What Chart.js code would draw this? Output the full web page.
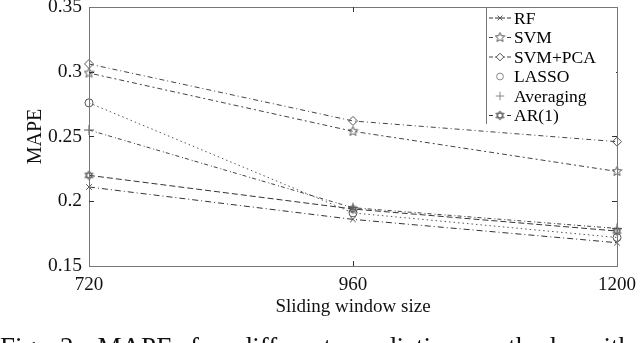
<!DOCTYPE html>
<html>
<head>
<meta charset="utf-8">
<script src="https://cdn.jsdelivr.net/npm/chart.js@4.4.1/dist/chart.umd.min.js"></script>
<style>
  html, body { margin: 0; padding: 0; background: #fff; }
  #wrap { width: 640px; height: 343px; }
</style>
</head>
<body>
<div id="wrap"><canvas id="mapeChart" width="640" height="343"></canvas></div>
<script>
// window sizes on the x axis
const windowSizes = [720, 960, 1200];
const xTicks = [720, 960, 1200];
const yTicks = [0.15, 0.2, 0.25, 0.3, 0.35];

// MAPE per method
const rf = [0.211, 0.186, 0.168];
const svm = [0.299, 0.254, 0.223];
const svmPca = [0.306, 0.262, 0.246];
const lasso = [0.276, 0.191, 0.172];
const averaging = [0.255, 0.195, 0.179];
const ar1 = [0.220, 0.194, 0.177];

const methodNames = ['RF', 'SVM', 'SVM+PCA', 'LASSO', 'Averaging', 'AR(1)'];

const serif = '"Liberation Serif", "Times New Roman", serif';

// star polygons drawn to small canvases (pentagram for SVM, hexagram for AR(1))
function makeStar(points, r, inner) {
    const size = 11;
    const c = document.createElement('canvas');
    c.width = size; c.height = size;
    const g = c.getContext('2d');
    g.strokeStyle = '#555';
    g.lineWidth = 1;
    const cx = size / 2, cy = size / 2;
    g.beginPath();
    for (let i = 0; i < points * 2; i++) {
        const a = -Math.PI / 2 + i * Math.PI / points;
        const rr = i % 2 === 0 ? r : r * inner;
        const px = cx + rr * Math.cos(a), py = cy + rr * Math.sin(a);
        if (i === 0) g.moveTo(px, py); else g.lineTo(px, py);
    }
    g.closePath();
    g.stroke();
    return c;
}
function makeHexagram() {
    const c = document.createElement('canvas');
    c.width = 11; c.height = 11;
    const g = c.getContext('2d');
    g.strokeStyle = '#555';
    g.lineWidth = 1;
    const cx = 5.5, cy = 5.5, r = 4.6;
    for (let k = 0; k < 2; k++) {
        g.beginPath();
        for (let i = 0; i < 3; i++) {
            const a = -Math.PI / 2 + k * Math.PI + i * 2 * Math.PI / 3;
            const px = cx + r * Math.cos(a), py = cy + r * Math.sin(a);
            if (i === 0) g.moveTo(px, py); else g.lineTo(px, py);
        }
        g.closePath();
        g.stroke();
    }
    return c;
}
const pentagram = makeStar(5, 5, 0.45);
const hexagram = makeHexagram();

function series(name, values, style, dash, color, radius) {
    return {
        label: name,
        data: windowSizes.map((x, i) => ({ x: x, y: values[i] })),
        borderColor: color,
        borderWidth: 1,
        borderDash: dash,
        pointStyle: style,
        pointRadius: radius,
        pointBorderColor: '#555',
        pointBackgroundColor: 'rgba(0,0,0,0)',
        pointBorderWidth: 1,
        fill: false,
        tension: 0,
        clip: false
    };
}

const datasets = [
    series(methodNames[0], rf, 'crossRot', [6, 3, 1, 3], '#333', 4),
    series(methodNames[1], svm, pentagram, [2, 3, 5, 3], '#444', 5),
    series(methodNames[2], svmPca, 'rectRot', [5, 3, 1, 3], '#444', 4.5),
    series(methodNames[3], lasso, 'circle', [1.5, 3], '#555', 4),
    series(methodNames[4], averaging, 'cross', [4, 3, 1, 2], '#444', 5),
    series(methodNames[5], ar1, hexagram, [6, 3], '#333', 5)
];

const captionWords = ['Fig.', '2.', 'MAPE', 'for', 'different', 'prediction', 'methods', 'with', 'different'];

// frame, inward ticks, legend box and caption
const decorPlugin = {
    id: 'decor',
    afterDatasetsDraw(chart) {
        const g = chart.ctx;
        const a = chart.chartArea;
        const xs = chart.scales.x, ys = chart.scales.y;
        g.save();
        g.strokeStyle = '#777';
        g.lineWidth = 1;
        g.strokeRect(a.left + 0.5, a.top + 0.5, a.right - a.left, a.bottom - a.top);
        g.strokeStyle = '#333';
        g.beginPath();
        xTicks.forEach(v => {
            const px = Math.round(xs.getPixelForValue(v)) + 0.5;
            if (px < a.left + 2 || px > a.right - 2) return;
            g.moveTo(px, a.bottom); g.lineTo(px, a.bottom - 5);
            g.moveTo(px, a.top); g.lineTo(px, a.top + 5);
        });
        yTicks.forEach(v => {
            const py = Math.round(ys.getPixelForValue(v)) + 0.5;
            if (py < a.top + 2 || py > a.bottom - 2) return;
            g.moveTo(a.left, py); g.lineTo(a.left + 5, py);
            g.moveTo(a.right, py); g.lineTo(a.right - 5, py);
        });
        g.stroke();

        // legend in upper right corner
        const lx = 486, rowH = 19.5, firstY = 18;
        g.fillStyle = '#fff';
        g.fillRect(lx, a.top + 1, a.right - lx - 1, 117);
        g.strokeStyle = '#777';
        g.beginPath();
        g.moveTo(lx + 0.5, a.top); g.lineTo(lx + 0.5, a.top + 117);
        g.stroke();
        g.font = '17.5px ' + serif;
        g.textBaseline = 'middle';
        g.textAlign = 'left';
        chart.data.datasets.forEach((ds, i) => {
            const y = firstY + i * rowH;
            const faint = i === 3 || i === 4;
            if (!faint) {
                g.strokeStyle = ds.borderColor;
                g.setLineDash([4, 2]);
                g.beginPath();
                g.moveTo(489, y); g.lineTo(511, y);
                g.stroke();
                g.setLineDash([]);
            }
            g.strokeStyle = faint ? '#888' : '#555';
            g.fillStyle = '#fff';
            if (typeof ds.pointStyle === 'string') {
                Chart.helpers.drawPoint(g, {
                    pointStyle: ds.pointStyle,
                    radius: ds.pointRadius * 0.85,
                    rotation: 0,
                    borderWidth: 1
                }, 500, y);
            } else {
                g.fillRect(495, y - 5, 11, 11);
                g.drawImage(ds.pointStyle, 500 - 5.5, y - 5.5);
            }
            g.fillStyle = '#000';
            g.fillText(ds.label, 514, y + 1);
        });

        // figure caption, justified and cut by the bottom edge
        g.font = '27px ' + serif;
        g.textBaseline = 'alphabetic';
        g.fillStyle = '#111';
        const lastEnd = 632;
        const shown = captionWords.slice(0, 8);
        const total = shown.reduce((s, w) => s + g.measureText(w).width, 0);
        const gap = (lastEnd - total) / (shown.length - 1);
        let cx = 0;
        captionWords.forEach(w => {
            g.fillText(w, cx, 356);
            cx += g.measureText(w).width + gap;
        });
        g.restore();
    }
};

const ctx = document.getElementById('mapeChart').getContext('2d');
const mapeChart = new Chart(ctx, {
    type: 'line',
    data: { datasets: datasets },
    options: {
        responsive: false,
        animation: false,
        layout: { padding: { top: 7, right: 23, bottom: 25, left: 0 } },
        plugins: {
            legend: { display: false },
            tooltip: { enabled: false }
        },
        scales: {
            x: {
                type: 'linear',
                min: 720,
                max: 1200,
                afterBuildTicks: s => { s.ticks = xTicks.map(v => ({ value: v })); },
                afterFit: s => { s.height = 52; s.paddingLeft = 0; s.paddingRight = 0; },
                grid: { display: false, drawTicks: false },
                border: { display: false },
                ticks: {
                    padding: 8,
                    color: '#111',
                    font: { family: serif, size: 19 },
                    maxRotation: 0,
                    autoSkip: false,
                    callback: v => String(v)
                },
                title: {
                    display: true,
                    text: 'Sliding window size',
                    color: '#111',
                    font: { family: serif, size: 19 },
                    padding: { top: 0, bottom: 0 }
                }
            },
            y: {
                min: 0.15,
                max: 0.35,
                afterBuildTicks: s => { s.ticks = yTicks.map(v => ({ value: v })); },
                afterFit: s => { s.width = 89; s.paddingTop = 0; s.paddingBottom = 0; },
                grid: { display: false, drawTicks: false },
                border: { display: false },
                ticks: {
                    padding: 7,
                    color: '#111',
                    font: { family: serif, size: 19.5 },
                    autoSkip: false,
                    callback: v => String(Number(v.toFixed(2)))
                },
                title: {
                    display: true,
                    text: 'MAPE',
                    color: '#111',
                    font: { family: serif, size: 20 },
                    padding: { top: 24, bottom: 0 }
                }
            }
        }
    },
    plugins: [decorPlugin]
});
</script>
</body>
</html>
